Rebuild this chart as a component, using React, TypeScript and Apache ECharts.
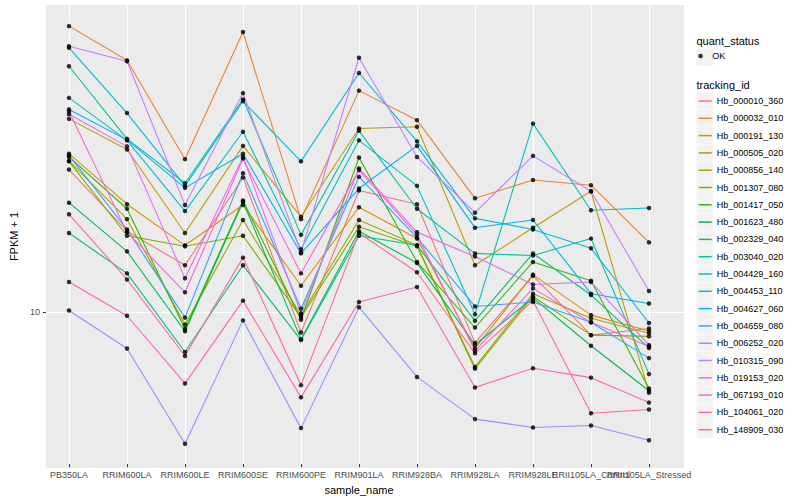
import { useEffect, useRef } from "react";
import * as echarts from "echarts";

const sampleNames = [
  "PB350LA", "RRIM600LA", "RRIM600LE", "RRIM600SE", "RRIM600PE", "RRIM901LA",
  "RRIM928BA", "RRIM928LA", "RRIM928LE", "RRII105LA_Control", "RRII105LA_Stressed",
];

const trackingIds = [
  "Hb_000010_360", "Hb_000032_010", "Hb_000191_130", "Hb_000505_020", "Hb_000856_140",
  "Hb_001307_080", "Hb_001417_050", "Hb_001623_480", "Hb_002329_040", "Hb_003040_020",
  "Hb_004429_160", "Hb_004453_110", "Hb_004627_060", "Hb_004659_080", "Hb_006252_020",
  "Hb_010315_090", "Hb_019153_020", "Hb_067193_010", "Hb_104061_020", "Hb_148909_030",
];

const trackingColors = [
  "#F8766D", "#EA8331", "#D89000", "#C09B00", "#A3A500", "#7CAE00", "#39B600", "#00BB4E",
  "#00BF7D", "#00C1A3", "#00BFC4", "#00BAE0", "#00B0F6", "#35A2FF", "#9590FF", "#C77CFF",
  "#E76BF3", "#FA62DB", "#FF62BC", "#FF6C91",
];

// FPKM + 1 per sample (order of sampleNames)
const hb_000010_360 = [25.3, 16.8, 13.4, 24.0, 8.58, 22.0, 20.1, 8.01, 12.5, 8.43, 8.81];
const hb_000032_010 = [65.5, 52.2, 27.1, 63.0, 18.2, 42.7, 35.1, 20.9, 23.6, 22.8, 15.6];
const hb_000191_130 = [28.1, 20.1, 15.3, 20.0, 11.7, 19.7, 16.0, 7.72, 12.6, 9.63, 8.67];
const hb_000505_020 = [35.4, 28.9, 16.6, 29.6, 18.5, 33.2, 33.6, 13.4, 17.2, 21.9, 5.75];
const hb_000856_140 = [26.8, 18.2, 9.04, 18.1, 9.63, 18.1, 15.3, 6.83, 11.1, 9.43, 8.54];
const hb_001307_080 = [26.7, 16.3, 15.2, 16.3, 9.49, 17.3, 15.2, 6.75, 10.9, 8.43, 8.36];
const hb_001417_050 = [27.5, 19.5, 8.78, 20.6, 9.34, 27.4, 13.7, 8.87, 13.7, 12.1, 5.92];
const hb_001623_480 = [20.3, 14.7, 8.65, 20.4, 8.21, 16.8, 13.6, 7.91, 10.8, 7.86, 5.83];
const hb_002329_040 = [16.6, 12.7, 7.54, 13.4, 8.16, 16.3, 15.3, 9.28, 14.5, 11.0, 7.74];
const hb_003040_020 = [50.2, 31.0, 23.1, 40.3, 16.4, 32.7, 19.5, 14.5, 14.3, 16.0, 6.51];
const hb_004429_160 = [40.7, 30.7, 19.2, 32.5, 14.9, 30.7, 22.7, 9.68, 34.3, 19.3, 19.6];
const hb_004453_110 = [56.7, 36.8, 22.7, 39.8, 26.7, 48.0, 30.5, 18.3, 17.0, 15.0, 9.14];
const hb_004627_060 = [37.7, 30.8, 22.4, 28.1, 14.5, 22.3, 29.6, 17.2, 18.1, 11.1, 10.4];
const hb_004659_080 = [27.8, 17.0, 9.47, 24.7, 10.05, 24.1, 16.1, 10.2, 10.5, 9.18, 7.24];
const hb_006252_020 = [9.93, 7.72, 4.10, 9.30, 4.55, 10.15, 6.39, 4.83, 4.57, 4.63, 4.20];
const hb_010315_090 = [57.3, 51.9, 20.0, 42.0, 14.6, 53.1, 27.5, 19.0, 27.7, 21.9, 11.3];
const hb_019153_020 = [36.5, 29.5, 12.3, 27.5, 9.74, 25.5, 16.7, 14.2, 11.8, 12.0, 7.89];
const hb_067193_010 = [37.2, 16.7, 11.2, 27.2, 12.7, 25.2, 16.4, 7.60, 11.5, 9.18, 7.82];
const hb_104061_020 = [12.0, 9.59, 6.12, 10.6, 5.58, 10.5, 11.6, 5.96, 6.77, 6.36, 5.39];
const hb_148909_030 = [18.8, 12.2, 7.34, 14.1, 6.05, 16.6, 12.8, 7.47, 10.6, 5.02, 5.15];

const seriesValues = [
  hb_000010_360, hb_000032_010, hb_000191_130, hb_000505_020, hb_000856_140,
  hb_001307_080, hb_001417_050, hb_001623_480, hb_002329_040, hb_003040_020,
  hb_004429_160, hb_004453_110, hb_004627_060, hb_004659_080, hb_006252_020,
  hb_010315_090, hb_019153_020, hb_067193_010, hb_104061_020, hb_148909_030,
];

const quantStatus = ["OK"];
const yTicks = [10];
const yMin = 3.5837;
const yMax = 75.36;

const FONT = "'Liberation Sans', Arial, Helvetica, sans-serif";
const LINE_ICON = "path://M0,0H13V1.5H0Z";

export default function App() {
  const ref = useRef<HTMLDivElement>(null);

  useEffect(() => {
    if (!ref.current) return;
    const chart = echarts.init(ref.current, undefined, { renderer: "svg" });

    const lineSeries = trackingIds.map((id, i) => ({
      type: "line",
      name: id,
      xAxisIndex: 1,
      yAxisIndex: 1,
      data: seriesValues[i],
      symbol: "none",
      showSymbol: false,
      lineStyle: { color: trackingColors[i], width: 1.1 },
      itemStyle: { color: trackingColors[i] },
      emphasis: { disabled: true },
      z: 2,
    }));

    const points: [string, number][] = [];
    seriesValues.forEach((vals) => {
      vals.forEach((v, j) => points.push([sampleNames[j], v]));
    });

    const keyRects = trackingIds.map((_, i) => ({
      type: "rect",
      silent: true,
      z: 0,
      shape: { x: 696.5, y: 92.7 + i * 17.28, width: 16.5, height: 16.8 },
      style: { fill: "#F2F2F2" },
    }));

    const option = {
      animation: false,
      backgroundColor: "#FFFFFF",
      grid: [
        { left: 35, right: 116, top: 5, bottom: 32, show: true, backgroundColor: "#EBEBEB", borderWidth: 0 },
        { left: 69, right: 151, top: 5, bottom: 32 },
      ],
      xAxis: [
        { gridIndex: 0, type: "value", min: 0, max: 1, show: false },
        {
          gridIndex: 1,
          type: "category",
          data: sampleNames,
          boundaryGap: false,
          axisLine: { show: false },
          axisTick: { show: true, length: 3, lineStyle: { color: "#333333", width: 1 } },
          axisLabel: { interval: 0, margin: 6, color: "#4D4D4D", fontSize: 9, fontFamily: FONT },
          splitLine: { show: true, lineStyle: { color: "#FFFFFF", width: 1.1 } },
          name: "sample_name",
          nameLocation: "middle",
          nameGap: 13,
          nameTextStyle: { color: "#000000", fontSize: 11, fontFamily: FONT },
        },
      ],
      yAxis: [
        {
          gridIndex: 0,
          type: "log",
          logBase: 10,
          min: yMin,
          max: yMax,
          axisLine: { show: false },
          axisTick: { show: true, length: 3, customValues: yTicks, lineStyle: { color: "#333333", width: 1 } },
          axisLabel: {
            customValues: yTicks,
            margin: 6,
            color: "#4D4D4D",
            fontSize: 9,
            fontFamily: FONT,
            formatter: (v: number) => (yTicks.some((t) => Math.abs(v - t) < 1e-6) ? String(v) : ""),
          },
          splitLine: { show: true, lineStyle: { color: "#FFFFFF", width: 1.1 } },
          minorTick: { show: false },
          minorSplitLine: { show: false },
          name: "FPKM + 1",
          nameLocation: "middle",
          nameGap: 17,
          nameTextStyle: { color: "#000000", fontSize: 11, fontFamily: FONT },
        },
        { gridIndex: 1, type: "log", logBase: 10, min: yMin, max: yMax, show: false },
      ],
      legend: [
        {
          data: quantStatus.map((q) => ({ name: q, icon: "circle" })),
          orient: "vertical",
          left: 698.3,
          top: 51.5,
          padding: 0,
          itemWidth: 13.4,
          itemHeight: 4.5,
          selectedMode: false,
          textStyle: { color: "#000000", fontSize: 9, fontFamily: FONT },
        },
        {
          data: trackingIds.map((id) => ({ name: id, icon: LINE_ICON })),
          orient: "vertical",
          left: 698.7,
          top: 96.5,
          padding: 0,
          itemWidth: 13,
          itemHeight: 11,
          itemGap: 8.3,
          selectedMode: false,
          textStyle: { color: "#000000", fontSize: 9, fontFamily: FONT },
        },
      ],
      graphic: {
        elements: [
          {
            type: "text",
            silent: true,
            x: 696.5,
            y: 40.7,
            style: { text: "quant_status", fontSize: 11, fontFamily: FONT, fill: "#000000", verticalAlign: "middle" },
          },
          {
            type: "rect",
            silent: true,
            z: 0,
            shape: { x: 696.5, y: 48.7, width: 16.5, height: 16.8 },
            style: { fill: "#F2F2F2" },
          },
          {
            type: "text",
            silent: true,
            x: 696.5,
            y: 84.5,
            style: { text: "tracking_id", fontSize: 11, fontFamily: FONT, fill: "#000000", verticalAlign: "middle" },
          },
          ...keyRects,
        ],
      },
      series: [
        ...lineSeries,
        {
          type: "scatter",
          name: "OK",
          xAxisIndex: 1,
          yAxisIndex: 1,
          data: points,
          symbol: "circle",
          symbolSize: 4.5,
          itemStyle: { color: "#000000" },
          emphasis: { disabled: true },
          z: 3,
        },
      ],
    };

    chart.setOption(option as any);
    return () => chart.dispose();
  }, []);

  return <div ref={ref} style={{ position: "fixed", left: 0, top: 0, width: 800, height: 500 }} />;
}
